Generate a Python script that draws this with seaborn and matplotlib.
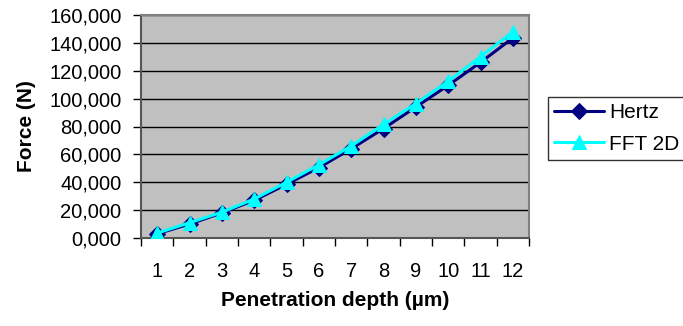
import matplotlib
matplotlib.use("Agg")
import matplotlib.pyplot as plt
import matplotlib.ticker as mticker
import seaborn as sns
import pandas as pd

# Penetration depth categories (µm)
depth = [1, 2, 3, 4, 5, 6, 7, 8, 9, 10, 11, 12]
# Force values (N)
hertz = [3.0, 10.0, 18.0, 27.0, 38.5, 50.5, 64.0, 78.5, 94.0, 109.5, 126.0, 143.5]
fft_2d = [3.5, 11.0, 18.5, 28.0, 40.0, 52.5, 66.0, 81.5, 96.5, 112.5, 130.0, 148.0]
series_names = ["Hertz", "FFT 2D"]

df = pd.DataFrame({
    "depth": depth * 2,
    "force": hertz + fft_2d,
    "series": [series_names[0]] * len(depth) + [series_names[1]] * len(depth),
})

sns.set_theme(style="white")
plt.rcParams["font.family"] = ["Liberation Sans", "DejaVu Sans"]
plt.rcParams["text.color"] = "black"
plt.rcParams["axes.labelcolor"] = "black"

W, H = 683, 326
fig = plt.figure(figsize=(W / 100, H / 100), dpi=100)
ax = fig.add_axes([141 / W, 88 / H, 388 / W, 223 / H])
ax.set_facecolor("#C0C0C0")

palette = {"Hertz": "#000080", "FFT 2D": "#00FFFF"}
markers = {"Hertz": "D", "FFT 2D": "^"}
marker_sizes = {"Hertz": 8.5, "FFT 2D": 9.5}

for name in series_names:
    sub = df[df["series"] == name]
    sns.lineplot(data=sub, x="depth", y="force", color=palette[name],
                 marker=markers[name], markersize=marker_sizes[name],
                 markeredgecolor=palette[name], linewidth=2.2,
                 label=name, ax=ax, zorder=3)

ax.set_xlim(0.5, 12.5)
ax.set_ylim(0, 160)
ax.yaxis.set_major_locator(mticker.MultipleLocator(20))
ax.yaxis.set_major_formatter(mticker.FuncFormatter(lambda v, p: f"{v:.3f}".replace(".", ",")))
ax.grid(axis="y", color="black", linewidth=1.0)
ax.set_axisbelow(True)

ax.set_xticks(depth)
ax.set_xticklabels([str(d) for d in depth])
ax.set_xticks([d + 0.5 for d in [0] + depth], minor=True)
ax.tick_params(axis="x", which="major", length=0, pad=17, labelsize=14.5, colors="black")
ax.tick_params(axis="x", which="minor", bottom=True, length=6, width=1, color="black")
ax.tick_params(axis="y", which="major", left=True, length=6, width=1, color="black",
               pad=8, labelsize=14.5, labelcolor="black")

for side in ["top", "right"]:
    ax.spines[side].set_color("#808080")
    ax.spines[side].set_linewidth(1.5)
for side in ["left", "bottom"]:
    ax.spines[side].set_color("#555555")
    ax.spines[side].set_linewidth(1.5)

ax.set_xlabel("Penetration depth (µm)", fontsize=15, fontweight="bold", color="black")
ax.set_ylabel("Force (N)", fontsize=15, fontweight="bold", color="black")
ax.xaxis.label.set_va("center")
ax.yaxis.label.set_va("center")
ax.xaxis.set_label_coords(0.5, (238 - 300) / 223)
ax.yaxis.set_label_coords((26 - 141) / 388, 0.5)

ax.get_legend().remove()
handles, labels = ax.get_legend_handles_labels()
leg = fig.legend(handles, labels, loc="upper left",
                 bbox_to_anchor=(548 / W, 1 - 97 / H),
                 frameon=True, fancybox=False, fontsize=15,
                 handlelength=2.4, handletextpad=0.25, borderpad=0.3,
                 labelspacing=0.6, borderaxespad=0, labelcolor="black")
leg.get_frame().set_edgecolor("black")
leg.get_frame().set_linewidth(1.0)

fig.savefig("out.png", dpi=100)
